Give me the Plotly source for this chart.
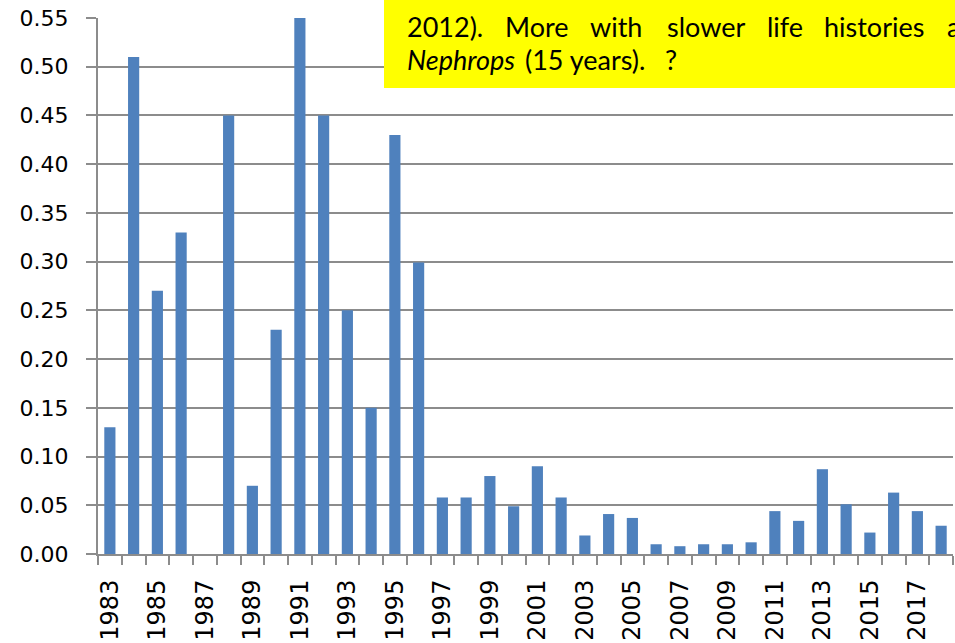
import plotly.graph_objects as go

# ---- data ----
years = list(range(1983, 2019))
values = [0.130, 0.510, 0.270, 0.330, 0.0, 0.450, 0.070, 0.230, 0.550, 0.450,
          0.250, 0.150, 0.430, 0.299, 0.058, 0.058, 0.080, 0.049, 0.090, 0.058,
          0.019, 0.041, 0.037, 0.010, 0.008, 0.010, 0.010, 0.012, 0.044, 0.034,
          0.087, 0.051, 0.022, 0.063, 0.044, 0.029]
categories = [str(y) for y in years]
tick_labels = [str(y) if y % 2 == 1 else "" for y in years]

note_line1 = ["2012).", "More", "with", "slower", "life", "histories", "a"]
note_line2 = ["<i>Nephrops</i>", "(15 years).", "?"]

# ---- layout geometry (pixels) ----
W, H = 955, 643
L, R, T, B = 98, 2, 18, 89
PW, PH = W - L - R, H - T - B

def px(x):
    return (x - L) / PW

def py(y):
    return (H - B - y) / PH

GRAY = "#8c8c8c"
BLUE = "#4f81bd"

fig = go.Figure(go.Bar(x=categories, y=values, marker=dict(color=BLUE, line=dict(width=0)),
                       hoverinfo="x+y"))

fig.update_layout(
    width=W, height=H,
    margin=dict(l=L, r=R, t=T, b=B, autoexpand=False),
    paper_bgcolor="white", plot_bgcolor="white",
    bargap=0.53,
    showlegend=False,
    font=dict(family="DejaVu Sans", color="black"),
)

fig.update_xaxes(
    type="category", categoryorder="array", categoryarray=categories,
    tickmode="array", tickvals=categories, ticktext=tick_labels,
    tickson="boundaries", ticks="outside", ticklen=9, tickwidth=2, tickcolor=GRAY,
    showline=True, linecolor=GRAY, linewidth=2,
    showgrid=False, tickangle=-90, tickfont=dict(size=24, family="DejaVu Sans"),
    ticklabelstandoff=14, automargin=False,
)
fig.update_yaxes(
    range=[0, 0.55], dtick=0.05, tickformat=".2f",
    ticks="outside", ticklen=10, tickwidth=2, tickcolor=GRAY,
    showline=True, linecolor=GRAY, linewidth=2,
    showgrid=True, gridcolor=GRAY, gridwidth=2, zeroline=False,
    tickfont=dict(size=22, family="DejaVu Sans"),
    ticklabelstandoff=13, automargin=False,
)

# yellow note box
fig.add_shape(type="rect", xref="paper", yref="paper",
              x0=px(384), x1=px(960), y0=py(88), y1=py(-5),
              fillcolor="#ffff00", line=dict(width=0), layer="above")

line1_x = [405, 503, 588, 665, 765, 822, 945]
line2_x = [405, 523, 663]
for word, x in zip(note_line1, line1_x):
    fig.add_annotation(text=word, xref="paper", yref="paper", x=px(x), y=py(26),
                       xanchor="left", yanchor="middle", showarrow=False,
                       font=dict(family="Lato", size=27, color="black"))
for word, x in zip(note_line2, line2_x):
    fig.add_annotation(text=word, xref="paper", yref="paper", x=px(x), y=py(59),
                       xanchor="left", yanchor="middle", showarrow=False,
                       font=dict(family="Lato", size=27, color="black"))

fig.write_html("out.html", config={"displayModeBar": False},
               post_script="document.body.style.margin='0px';document.body.style.overflow='hidden';")
